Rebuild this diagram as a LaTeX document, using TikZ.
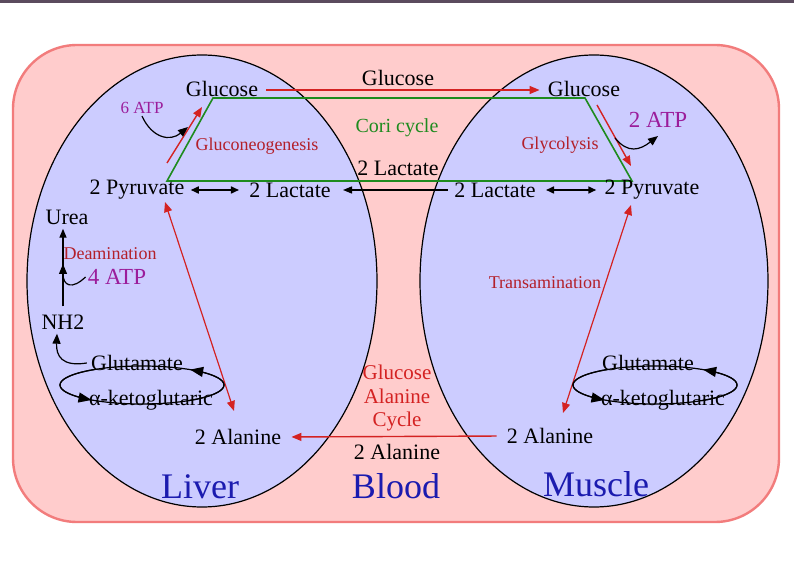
\documentclass[tikz,border=0pt]{standalone}
\usepackage{fontspec}
\setmainfont{Liberation Serif}
\usetikzlibrary{arrows.meta}

\definecolor{topbar}{HTML}{5B4B5E}
\definecolor{boxpink}{HTML}{FFCCCC}
\definecolor{boxedge}{HTML}{F27C7C}
\definecolor{organfill}{HTML}{CCCCFF}
\definecolor{pathred}{HTML}{D42222}
\definecolor{labred}{HTML}{B3202A}
\definecolor{corigreen}{HTML}{1E8B1E}
\definecolor{atppurple}{HTML}{9B1D9B}
\definecolor{organblue}{HTML}{1B1BAF}

\begin{document}
\begin{tikzpicture}[x=0.5pt, y=-0.5pt,
  met/.style={inner sep=2pt, font=\fontsize{11}{13}\selectfont},
  proc/.style={inner sep=1pt, labred, font=\fontsize{9}{11}\selectfont},
  atp/.style={inner sep=1pt, atppurple},
  organ/.style={inner sep=1pt, organblue, font=\fontsize{18}{20}\selectfont},
  redarr/.style={pathred, line width=0.7pt, -{Triangle[length=5pt,width=4pt]}},
  redboth/.style={pathred, line width=0.6pt, {Triangle[length=5pt,width=4pt]}-{Triangle[length=5pt,width=4pt]}},
  blkboth/.style={line width=0.8pt, {Triangle[length=4pt,width=3.5pt]}-{Triangle[length=4pt,width=3.5pt]}},
  blkarr/.style={line width=0.7pt, -{Triangle[length=4.5pt,width=3.5pt]}},
  curvarr/.style={line width=0.6pt, -{Triangle[length=5pt,width=4pt]}},
  looparr/.style={line width=0.6pt, -{Triangle[length=6.5pt,width=5pt]}}]
  \useasboundingbox (0,0) rectangle (794,561);
  \fill[white] (0,0) rectangle (794,561);
  \fill[topbar] (0,0) rectangle (794,3);

  % blood box, liver and muscle
  \draw[boxedge, fill=boxpink, line width=1.2pt, rounded corners=32pt] (13,45) rectangle (779,522);
  \draw[fill=organfill, line width=0.6pt] (202,281) ellipse [x radius=175, y radius=226];
  \draw[fill=organfill, line width=0.6pt] (594,281) ellipse [x radius=174, y radius=226];

  % Cori cycle
  \coordinate (c1) at (213,98);
  \coordinate (c2) at (585,98);
  \coordinate (c3) at (632,181);
  \coordinate (c4) at (167,181);
  \draw[corigreen, line width=0.8pt] (c1) -- (c2) -- (c3) -- (c4) -- cycle;

  % metabolites
  \node[met] (lglu) at (222,89) {Glucose};
  \node[met] (bglu) at (398,78) {Glucose};
  \node[met] (rglu) at (584,89) {Glucose};
  \node[met] (blac) at (398,168) {2 Lactate};
  \node[met] (lpyr) at (137,190) {2 Pyruvate};
  \node[met] (llac) at (290,190) {2 Lactate};
  \node[met] (rlac) at (495,190) {2 Lactate};
  \node[met] (rpyr) at (652,190) {2 Pyruvate};
  \node[met] (urea) at (67,217) {Urea};
  \node[met] (nh2)  at (63,322) {NH2};
  \node[met] (lglut) at (137,363) {Glutamate};
  \node[met] (lketo) at (151,400) {α-ketoglutaric};
  \node[met] (rglut) at (648,363) {Glutamate};
  \node[met] (rketo) at (663,400) {α-ketoglutaric};
  \node[met] (lala) at (238,437) {2 Alanine};
  \node[met] (rala) at (550,436) {2 Alanine};
  \node[met] (bala) at (397,452) {2 Alanine};

  % labels
  \node[corigreen, font=\fontsize{10}{12}\selectfont] (cori) at (397,128) {Cori cycle};
  \node[proc] (gneo) at (257,146) {Gluconeogenesis};
  \node[proc] (glyc) at (560,145) {Glycolysis};
  \node[proc] (deam) at (110,254) {Deamination};
  \node[proc] (trans) at (545,283) {Transamination};
  \node[atp, font=\fontsize{8.5}{10}\selectfont] (atp6) at (142,108) {6 ATP};
  \node[atp, font=\fontsize{11.5}{13}\selectfont] (atp2) at (658,120) {2 ATP};
  \node[atp, font=\fontsize{11.5}{13}\selectfont] (atp4) at (117,277) {4 ATP};
  \node[pathred, align=center, font=\fontsize{10.5}{11.75}\selectfont] (gac) at (397,398) {Glucose\\Alanine\\Cycle};
  \node[organ] (liver) at (200,487) {Liver};
  \node[organ] (blood) at (396,486) {Blood};
  \node[organ] (muscle) at (596,484) {Muscle};

  % glucose and lactate transport
  \draw[redarr, shorten <=2pt, shorten >=2pt] (lglu.east |- 0,90) -- (rglu.west |- 0,90);
  \draw[blkboth, shorten <=1pt, shorten >=3pt] (lpyr) -- (llac);
  \draw[blkarr, shorten <=1pt, shorten >=4pt] (rlac.west) -- (llac.east);
  \draw[blkboth, shorten <=3pt, shorten >=2pt] (rlac) -- (rpyr);
  \draw[redarr, shorten <=3pt, shorten >=3pt] (rala.west) -- (lala.east);

  % gluconeogenesis and glycolysis
  \coordinate (g1) at (167,163);
  \coordinate (g2) at (202,107);
  \coordinate (y1) at (597,105);
  \coordinate (y2) at (631,166);
  \draw[redarr] (g1) -- (g2);
  \draw[redarr] (y1) -- (y2);
  \draw[curvarr] (atp6.south) .. controls (152,138) and (170,142) .. (188,127);
  \coordinate (a2) at (615,138);
  \draw[curvarr] (a2) .. controls (628,154) and (640,150) .. ([yshift=-3pt]atp2.south);

  % transamination arrows
  \coordinate (p1) at (165,202);
  \coordinate (p2) at (234,411);
  \coordinate (q1) at (631,205);
  \coordinate (q2) at (563,413);
  \draw[redboth] (p1) -- (p2);
  \draw[redboth] (q1) -- (q2);

  % urea cycle
  \draw[blkarr] ([yshift=2pt]nh2.north) -- (nh2.north |- urea.south);
  \draw[curvarr] (atp4.west) .. controls (72,290) and (63,286) .. (nh2.north |- 0,264);
  \draw[curvarr] (lglut.west) .. controls (62,367) and (56,356) .. ([xshift=-3pt]nh2.south);

  % glutamate loops
  \coordinate (lcyc) at (142,385);
  \coordinate (rcyc) at (655,385);
  \foreach \cyc in {lcyc, rcyc} {
    \draw[line width=0.6pt] (\cyc) ellipse [x radius=82, y radius=19];
    \draw[looparr, shift={(\cyc)}, variable=\t, smooth, samples=25, domain=235:128] plot ({82*cos(\t)}, {19*sin(\t)});
    \draw[looparr, shift={(\cyc)}, variable=\t, smooth, samples=25, domain=55:-54] plot ({82*cos(\t)}, {19*sin(\t)});
  }
\end{tikzpicture}
\end{document}
